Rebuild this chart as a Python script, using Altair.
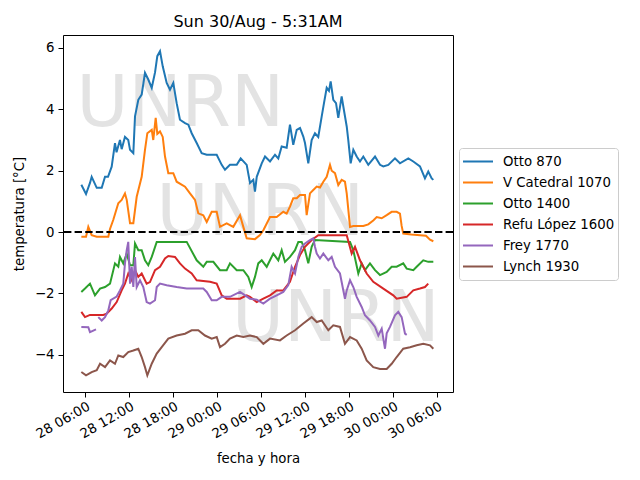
import altair as alt
import pandas as pd

series_names = ["Otto 870", "V Catedral 1070", "Otto 1400", "Refu López 1600", "Frey 1770", "Lynch 1930"]
series_colors = ["#1f77b4", "#ff7f0e", "#2ca02c", "#d62728", "#9467bd", "#8c564b"]

# (hours since 2020-08-28 00:00, temperature °C)
otto870 = [(5.5,1.54),(6.14,1.24),(6.68,1.6),(6.91,1.8),(7.6,1.44),(8.28,1.44),(8.73,1.8),(9.14,1.8),(9.64,2.13),(10.09,2.9),(10.3,2.6),(10.77,3.0),(11.0,2.7),(11.45,3.1),(11.9,3.0),(12.14,2.68),(12.59,2.57),(12.82,3.77),(13.27,4.31),(13.73,4.48),(14.18,5.19),(14.63,4.97),(15.1,4.7),(15.55,5.2),(15.86,5.73),(16.23,5.89),(16.6,5.4),(17.14,4.86),(17.59,4.64),(18.04,4.86),(18.5,4.2),(18.95,3.66),(19.64,3.55),(20.09,3.5),(20.55,3.22),(21.23,2.9),(21.91,2.57),(22.6,2.52),(23.96,2.52),(24.64,2.19),(25.09,2.03),(25.77,2.19),(26.69,2.19),(27.23,2.4),(28.05,2.19),(28.5,1.6),(28.95,1.7),(29.18,1.32),(29.42,1.8),(30.1,2.24),(30.55,2.46),(31.23,2.3),(31.91,2.52),(32.36,2.4),(32.82,2.79),(33.5,2.75),(33.95,3.5),(34.4,2.84),(34.87,3.33),(35.32,3.39),(35.77,3.11),(36.0,2.9),(36.45,2.24),(36.91,3.0),(37.36,3.22),(37.81,3.1),(38.28,3.77),(38.59,4.2),(38.96,4.7),(39.27,4.6),(39.5,4.91),(39.86,4.31),(40.23,4.2),(40.54,3.72),(41.0,4.42),(41.22,4.1),(41.69,3.44),(41.9,3.0),(42.23,2.24),(42.59,2.68),(43.05,2.46),(43.5,2.3),(43.95,2.46),(44.63,2.19),(45.55,2.46),(46.23,2.19),(46.68,2.14),(47.36,2.19),(48.27,2.4),(48.95,2.24),(50.09,2.4),(50.77,2.3),(51.68,2.14),(52.36,1.75),(52.81,1.97),(53.28,1.75),(53.5,1.7)]

vcatedral1070 = [(5.5,-0.15),(6.14,-0.15),(6.45,0.17),(6.91,-0.1),(7.6,-0.15),(9.18,-0.15),(9.41,0.1),(9.86,0.4),(10.54,0.94),(11.0,1.05),(11.45,1.26),(11.69,1.05),(12.14,0.29),(12.59,0.29),(13.05,1.15),(13.73,1.8),(14.18,2.68),(14.5,3.22),(15.1,3.33),(15.31,3.0),(15.64,3.72),(15.86,3.2),(16.23,3.28),(16.6,3.1),(16.91,2.46),(17.36,1.92),(18.04,1.92),(18.5,1.64),(19.64,1.48),(20.32,1.26),(21.0,1.05),(21.45,0.61),(22.13,0.55),(22.6,0.33),(23.28,0.66),(23.96,0.66),(24.41,0.17),(25.32,0.28),(26.22,0.17),(27.14,0.55),(27.59,0.17),(28.05,-0.2),(29.18,-0.23),(29.86,-0.1),(30.32,0.06),(31.23,0.49),(32.14,0.49),(33.04,0.66),(33.5,0.6),(33.95,0.83),(34.4,1.1),(34.87,1.1),(35.32,1.21),(36.0,1.21),(36.23,0.55),(36.68,1.26),(37.13,1.37),(37.6,1.48),(38.04,1.45),(38.5,1.64),(38.96,1.8),(39.41,2.19),(39.64,2.0),(40.09,1.92),(40.54,1.53),(41.0,1.7),(41.45,1.64),(41.69,1.26),(42.14,0.17),(42.59,0.2),(43.95,0.2),(44.63,0.25),(45.31,0.38),(45.78,0.49),(46.46,0.45),(47.14,0.55),(47.82,0.66),(48.5,0.66),(48.95,0.6),(49.18,0.2),(49.4,-0.05),(50.5,-0.08),(51.68,-0.1),(52.5,-0.12),(53.05,-0.25),(53.5,-0.3)]

otto1400 = [(5.5,-1.95),(6.0,-1.84),(6.68,-1.68),(7.36,-2.06),(8.05,-1.84),(8.73,-1.79),(9.41,-1.68),(10.09,-1.02),(10.54,-1.13),(10.77,-0.81),(11.22,-1.02),(11.69,-0.7),(12.14,-1.08),(12.59,-1.08),(12.82,-0.37),(13.27,-0.59),(13.73,-0.59),(14.18,-0.92),(14.63,-1.08),(15.1,-0.81),(15.78,-0.32),(19.87,-0.32),(21.23,-0.92),(22.13,-1.13),(22.6,-0.97),(23.5,-0.97),(24.41,-1.24),(25.32,-1.24),(25.77,-1.02),(26.69,-1.24),(27.59,-1.24),(28.27,-1.46),(28.73,-1.79),(29.18,-1.46),(29.63,-1.02),(30.1,-0.92),(30.78,-1.13),(31.68,-0.7),(32.36,-0.92),(32.82,-0.59),(33.27,-0.97),(33.95,-0.81),(34.64,-0.59),(35.09,-0.32),(35.55,-0.32),(36.0,-0.59),(36.45,-1.02),(36.91,-0.48),(37.36,-0.26),(42.14,-0.32),(42.59,-0.59),(43.27,-1.35),(43.73,-1.02),(44.18,-1.24),(44.86,-1.02),(45.55,-1.24),(46.23,-1.4),(47.14,-1.3),(47.82,-1.13),(48.5,-1.13),(49.4,-1.02),(49.87,-1.19),(50.77,-1.24),(51.23,-1.13),(52.13,-0.92),(52.81,-0.97),(53.5,-0.97)]

refulopez1600 = [(5.5,-2.6),(6.0,-2.77),(6.68,-2.7),(8.5,-2.7),(8.96,-2.66),(9.64,-2.49),(10.32,-2.28),(11.0,-1.9),(11.45,-1.68),(11.9,-1.35),(12.37,-1.57),(12.82,-1.24),(13.27,-1.46),(13.73,-1.35),(14.41,-1.68),(14.86,-1.63),(15.55,-1.24),(16.23,-1.13),(16.91,-0.86),(17.36,-0.78),(18.27,-0.81),(18.95,-1.02),(19.64,-1.19),(20.55,-1.35),(21.23,-1.57),(23.05,-1.62),(23.96,-1.68),(24.64,-2.06),(25.32,-2.17),(27.14,-2.17),(28.05,-2.06),(28.5,-2.11),(29.42,-2.28),(30.32,-2.17),(31.23,-2.06),(32.14,-1.9),(33.04,-1.9),(33.95,-1.62),(34.64,-1.13),(35.32,-0.75),(36.0,-0.48),(36.91,-0.26),(37.81,-0.1),(41.69,-0.1),(42.37,-0.7),(42.82,-0.48),(43.5,-0.92),(44.41,-1.35),(45.31,-1.62),(46.68,-1.84),(48.04,-2.06),(48.5,-2.17),(49.87,-2.11),(50.77,-1.9),(51.68,-1.84),(52.36,-1.79),(52.81,-1.68)]

frey1770_a = [(5.5,-3.09),(6.45,-3.1),(6.68,-3.26),(7.5,-3.17)]
frey1770_b = [(7.81,-2.77),(8.28,-2.88),(8.73,-2.77),(9.18,-2.55),(9.5,-2.22),(10.32,-2.1),(10.77,-1.9),(11.22,-1.68),(11.45,-1.02),(11.69,-0.59),(11.9,-0.32),(12.14,-1.68),(12.37,-1.13),(12.59,-1.79),(12.82,-0.81),(13.05,-1.79),(13.5,-1.57),(13.95,-1.79),(14.41,-2.28),(14.86,-2.33),(15.55,-2.22),(15.78,-1.79),(16.23,-1.68),(17.14,-1.73),(18.5,-1.79),(19.87,-1.84),(21.23,-1.84),(22.13,-1.84),(22.6,-1.95),(23.28,-2.22),(23.96,-2.22),(24.64,-2.11),(25.77,-2.11),(27.14,-1.95),(28.5,-2.17),(29.42,-2.2),(30.32,-2.33),(31.23,-2.17),(32.14,-2.06),(33.04,-1.95),(33.72,-1.73),(34.18,-1.13),(34.64,-1.35),(35.09,-0.81),(35.55,-0.48),(36.0,-0.37),(36.68,-0.26),(37.13,-0.2),(37.36,-0.48),(37.6,-0.7),(38.04,-0.86),(38.5,-0.7),(39.18,-0.92),(39.64,-0.81),(40.09,-1.13),(40.77,-1.35),(41.45,-2.17),(41.69,-1.9),(42.14,-1.57),(42.59,-1.79),(43.05,-2.11),(43.73,-2.44),(44.18,-2.71),(44.86,-2.88),(45.55,-3.09),(46.0,-3.37),(46.46,-3.15),(46.91,-3.8),(47.14,-3.3),(47.59,-3.09),(48.27,-2.71),(48.72,-2.6),(49.18,-2.77),(49.64,-3.31),(49.87,-3.35)]

lynch1930 = [(5.5,-4.56),(6.14,-4.67),(6.91,-4.56),(7.6,-4.5),(8.05,-4.29),(8.73,-4.4),(9.41,-4.18),(10.09,-4.29),(10.54,-4.02),(11.22,-4.07),(11.9,-3.91),(12.59,-3.86),(13.27,-3.8),(13.73,-4.07),(14.18,-4.4),(14.5,-4.67),(15.1,-4.29),(15.78,-3.96),(16.46,-3.75),(17.36,-3.47),(18.5,-3.37),(19.64,-3.31),(20.55,-3.2),(21.45,-3.2),(22.36,-3.37),(23.28,-3.47),(23.96,-3.42),(24.41,-3.75),(25.09,-3.64),(25.77,-3.47),(26.69,-3.37),(27.59,-3.42),(28.5,-3.37),(29.42,-3.42),(30.32,-3.64),(31.23,-3.47),(32.59,-3.53),(33.5,-3.37),(34.64,-3.2),(35.77,-2.98),(36.91,-2.77),(37.6,-2.93),(38.28,-2.88),(39.18,-3.2),(39.86,-3.04),(40.77,-3.09),(41.45,-3.64),(42.14,-3.42),(43.05,-3.53),(43.73,-3.8),(44.41,-4.18),(45.31,-4.4),(46.23,-4.46),(47.14,-4.46),(47.82,-4.29),(48.5,-4.07),(49.4,-3.8),(50.32,-3.75),(51.23,-3.69),(52.13,-3.64),(53.05,-3.69),(53.5,-3.8)]

chart_title = "Sun 30/Aug - 5:31AM"
x_title = "fecha y hora"
y_title = "temperatura [°C]"
y_ticks = [-4, -2, 0, 2, 4, 6]
watermark = "UNRN"

segments = [
    ("Otto 870", "a", otto870),
    ("V Catedral 1070", "a", vcatedral1070),
    ("Otto 1400", "a", otto1400),
    ("Refu López 1600", "a", refulopez1600),
    ("Frey 1770", "a", frey1770_a),
    ("Frey 1770", "b", frey1770_b),
    ("Lynch 1930", "a", lynch1930),
]

t0 = pd.Timestamp("2020-08-28 00:00:00")
rows = []
for name, seg, pts in segments:
    for h, v in pts:
        rows.append({"name": name, "seg": name + seg,
                     "time": (t0 + pd.Timedelta(hours=h)).strftime("%Y-%m-%dT%H:%M:%S"),
                     "temp": v})
df = pd.DataFrame(rows)

def dt(d, hh, mm=0):
    return alt.DateTime(year=2020, month=8, date=d, hours=hh, minutes=mm)

x_ticks = [dt(28, 6), dt(28, 12), dt(28, 18), dt(29, 0), dt(29, 6), dt(29, 12), dt(29, 18), dt(30, 0), dt(30, 6)]

FONT = "DejaVu Sans"

x_enc = alt.X("time:T",
              scale=alt.Scale(domain=[dt(28, 3, 0), dt(30, 8, 11)]),
              axis=alt.Axis(values=x_ticks, format="%d %H:%M", labelAngle=-30,
                            labelAlign="right", labelBaseline="top", labelPadding=2,
                            labelOverlap=False, labelFlush=False,
                            title=x_title, titlePadding=11))
y_enc = alt.Y("temp:Q",
              scale=alt.Scale(domain=[-5.21, 6.42], nice=False, zero=False),
              axis=alt.Axis(values=y_ticks, title=y_title, labelPadding=4, titlePadding=8))

lines = alt.Chart(df).mark_line(strokeWidth=2, clip=True).encode(
    x=x_enc,
    y=y_enc,
    color=alt.Color("name:N",
                    scale=alt.Scale(domain=series_names, range=series_colors),
                    title=None,
                    legend=alt.Legend(orient="none", legendX=396, legendY=113,
                                      symbolType="stroke", symbolSize=900, symbolStrokeWidth=2,
                                      clipHeight=21, rowPadding=0, labelOffset=9, padding=3,
                                      strokeColor="#cccccc", cornerRadius=3, fillColor="white",
                                      labelFontSize=13.3, labelFont=FONT, labelColor="black",
                                      labelLimit=300)),
    detail="seg:N",
    order="time:T",
)

zero_line = alt.Chart(pd.DataFrame({"y": [0]})).mark_rule(
    color="black", strokeDash=[7.4, 3.2], strokeWidth=2).encode(y="y:Q")

wm_df = pd.DataFrame({"label": [watermark]})
def wm(px, py):
    return alt.Chart(wm_df).mark_text(fontSize=71, font=FONT, color="#e3e3e3",
                                      align="left", baseline="alphabetic").encode(
        text="label:N", x=alt.value(px), y=alt.value(py))

chart = alt.layer(wm(13.5, 90.7), wm(93.5, 199.7), wm(169, 306.3), lines, zero_line).properties(
    width=390, height=357,
    title=alt.Title(chart_title, fontSize=16, font=FONT, fontWeight="normal", color="black", offset=5),
    padding={"left": 55, "top": 27, "right": 176, "bottom": 75},
    autosize=alt.AutoSizeParams(type="none"),
).configure_view(stroke="black", strokeWidth=1).configure_axis(
    domain=False, grid=False, ticks=True, tickColor="black", tickSize=5, tickWidth=1,
    labelFont=FONT, labelFontSize=13.3, labelColor="black",
    titleFont=FONT, titleFontSize=13.3, titleFontWeight="normal", titleColor="black",
)

chart.save("out.html", embed_options={"renderer": "svg", "actions": False})
